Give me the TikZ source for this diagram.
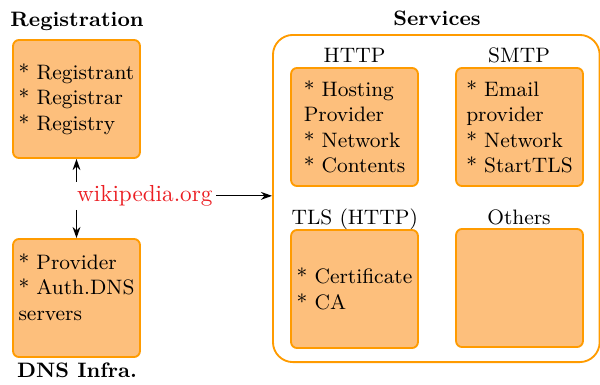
\documentclass[tikz,border=0pt]{standalone}
\usetikzlibrary{arrows.meta}
\definecolor{boxline}{RGB}{255,155,0}
\definecolor{boxfill}{RGB}{253,191,124}
\definecolor{domred}{RGB}{235,30,35}
\begin{document}
\begin{tikzpicture}[x=0.431pt,y=-0.431pt,
  item/.style={draw=boxline, fill=boxfill, line width=0.8pt, rounded corners=2.6pt,
    minimum width=54.7pt, minimum height=50.9pt, align=left, inner sep=0pt, font=\small},
  group/.style={draw=boxline, line width=0.8pt, rounded corners=8.6pt,
    minimum width=140.8pt, minimum height=141pt, inner sep=0pt},
  title/.style={font=\small\bfseries, inner sep=0pt, anchor=base},
  lbl/.style={inner sep=0pt, anchor=base, font=\small},
  arr/.style={-{Stealth[length=4.8pt,width=3.4pt]}, line width=0.5pt}]
\useasboundingbox (0,0) rectangle (600,384);
% group frame
\node[group] (svc) at (436.3,198.5) {};
% boxes
\node[item] (reg) at (76.5,99) {* Registrant\\* Registrar\\* Registry};
\node[item] (dns) at (76.5,298) {* Provider\\* Auth.DNS\\servers\\[-1.5pt]\mbox{}};
\node[item] (http) at (354.5,127) {* Hosting\\Provider\\* Network\\* Contents};
\node[item] (smtp) at (519.5,127) {* Email\\provider\\* Network\\* StartTLS};
\node[item] (tls) at (354.5,289) {* Certificate\\* CA};
\node[item] (oth) at (519.5,288) {};
% titles
\node[title] (treg) at (77,26.7) {Registration};
\node[title] (tsvc) at (437,25) {Services};
\node[title] (tdns) at (77,377.5) {DNS Infra.};
% labels
\node[lbl] (lhttp) at (354.5,62.7) {HTTP};
\node[lbl] (lsmtp) at (519,62.7) {SMTP};
\node[lbl] (ltls) at (354.7,224.3) {TLS (HTTP)};
\node[lbl] (loth) at (519,224.3) {Others};
% domain
\node[lbl, font=\normalsize, text=domred, inner sep=1.3pt] (wiki) at (144.8,201.5) {wikipedia.org};
% connectors
\draw[arr] (reg.south |- wiki.north) -- (reg.south);
\draw[arr] (dns.north |- wiki.south) -- (dns.north);
\draw[arr] (wiki.east) -- (wiki.east -| svc.west);
\end{tikzpicture}
\end{document}
